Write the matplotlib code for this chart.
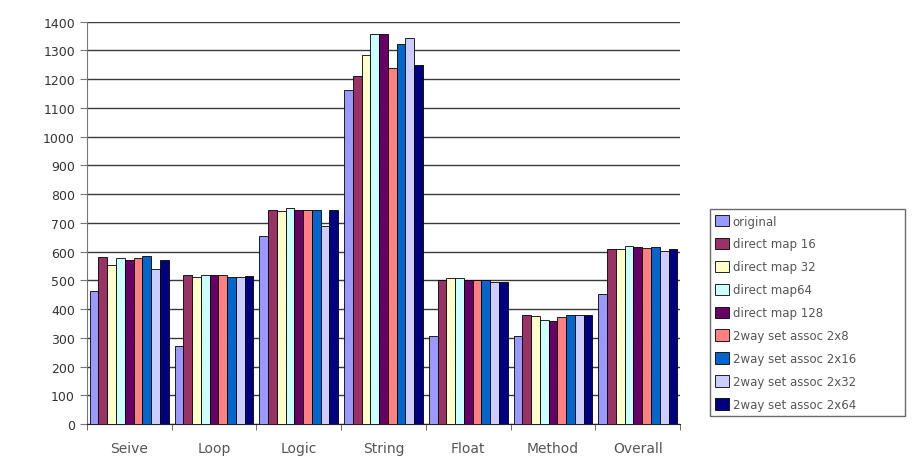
import matplotlib
matplotlib.use("Agg")
import matplotlib.pyplot as plt
import numpy as np

categories = ["Seive", "Loop", "Logic", "String", "Float", "Method", "Overall"]
series_names = ["original", "direct map 16", "direct map 32", "direct map64", "direct map 128",
                "2way set assoc 2x8", "2way set assoc 2x16", "2way set assoc 2x32", "2way set assoc 2x64"]
original = [463, 271, 654, 1163, 306, 306, 454]
dm16 = [581, 520, 743, 1209, 502, 381, 610]
dm32 = [552, 512, 741, 1285, 508, 375, 610]
dm64 = [579, 517, 751, 1356, 508, 363, 618]
dm128 = [572, 517, 743, 1356, 502, 358, 616]
sa2x8 = [578, 520, 743, 1238, 502, 373, 612]
sa2x16 = [583, 512, 743, 1322, 502, 381, 616]
sa2x32 = [538, 512, 688, 1343, 494, 381, 602]
sa2x64 = [572, 515, 743, 1250, 494, 381, 610]
series = [original, dm16, dm32, dm64, dm128, sa2x8, sa2x16, sa2x32, sa2x64]
colors = ["#9999FF", "#993366", "#FFFFCC", "#CCFFFF", "#660066",
          "#FF8080", "#0066CC", "#CCCCFF", "#000080"]
yticks = list(range(0, 1401, 100))

fig = plt.figure(figsize=(9.23, 4.6), dpi=100)
ax = fig.add_axes([0.094, 0.076, 0.643, 0.875])

n = len(series)
group_w = 0.93
w = group_w / n
x = np.arange(len(categories))
for i, (vals, c, name) in enumerate(zip(series, colors, series_names)):
    ax.bar(x - group_w / 2 + w * (i + 0.5), vals, width=w, color=c,
           edgecolor="black", linewidth=0.6, label=name, zorder=3)

ax.set_xlim(-0.5, len(categories) - 0.5)
ax.set_ylim(0, 1400)
ax.set_yticks(yticks)
ax.yaxis.grid(True, color="#3a3a3a", linewidth=1.0, zorder=0)
ax.set_axisbelow(True)
for s in ["top", "right"]:
    ax.spines[s].set_visible(False)
ax.spines["left"].set_color("#777777")
ax.spines["bottom"].set_color("#222222")
ax.tick_params(axis="y", direction="out", length=5, colors="#777777", labelcolor="#333333", labelsize=9)
ax.set_xticks(x)
ax.set_xticklabels(categories, fontsize=10, color="#555555")
ax.tick_params(axis="x", length=0, pad=12)
ax.set_xticks(np.arange(-0.5, len(categories)), minor=True)
ax.tick_params(axis="x", which="minor", length=4, direction="out", color="#555555")

leg = fig.legend(loc="lower left", bbox_to_anchor=(0.769, 0.093, 0.211, 0.446),
                 mode="expand", borderaxespad=0, fontsize=8.5, labelspacing=0.84,
                 handlelength=1.2, handleheight=1.1, handletextpad=0.3,
                 fancybox=False, frameon=True, borderpad=0.45)
leg.get_frame().set_edgecolor("#444444")
leg.get_frame().set_linewidth(1.0)
for t in leg.get_texts():
    t.set_color("#555555")

fig.savefig("out.png", dpi=100)
